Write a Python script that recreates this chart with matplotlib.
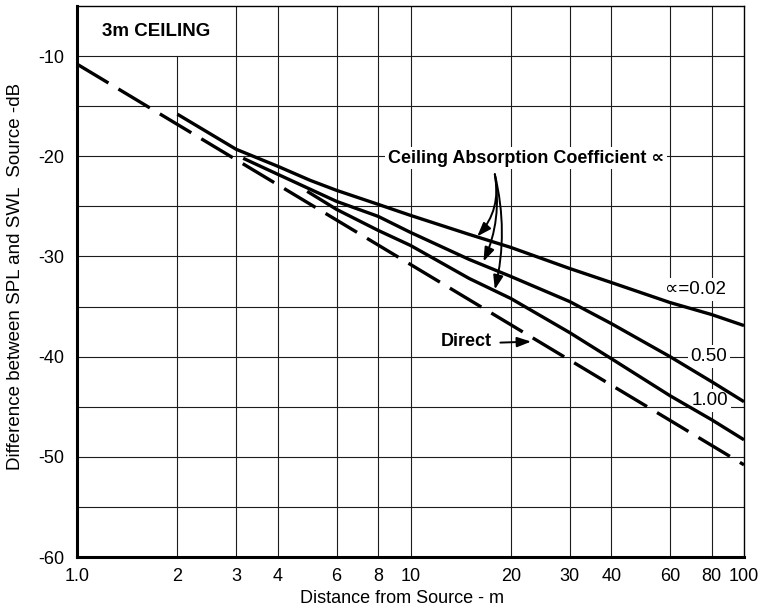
import matplotlib
matplotlib.use("Agg")
import matplotlib.pyplot as plt

plt.rcParams['font.family'] = ['Liberation Sans', 'DejaVu Sans']

# Axis ticks
x_ticks = [1, 2, 3, 4, 6, 8, 10, 20, 30, 40, 60, 80, 100]
x_tick_labels = ['1.0', '2', '3', '4', '6', '8', '10', '20', '30', '40', '60', '80', '100']
y_ticks = [-10, -20, -30, -40, -50, -60]
y_tick_labels = ['-10', '-20', '-30', '-40', '-50', '-60']

# Direct field (dashed)
direct_r = [1, 10, 100]
direct_db = [-10.8, -30.8, -50.8]

# Ceiling absorption coefficient 0.02
a002_r = [2, 3, 4, 5, 6, 8, 10, 15, 20, 30, 40, 60, 80, 100]
a002_db = [-15.8, -19.3, -21.0, -22.4, -23.4, -24.8, -25.9, -27.8, -29.1, -31.2, -32.6, -34.6, -35.8, -36.9]

# Ceiling absorption coefficient 0.50
a050_r = [3.15, 4, 6, 8, 10, 15, 20, 30, 40, 60, 80, 100]
a050_db = [-20.2, -21.8, -24.5, -26.0, -27.6, -30.3, -32.0, -34.5, -36.7, -40.0, -42.5, -44.5]

# Ceiling absorption coefficient 1.00
a100_r = [4.9, 6, 8, 10, 15, 20, 30, 40, 60, 80, 100]
a100_db = [-23.5, -25.3, -27.4, -28.9, -32.2, -34.2, -37.6, -40.2, -43.9, -46.3, -48.3]

W, H = 765, 607
fig = plt.figure(figsize=(W / 100, H / 100), dpi=100)
ax = fig.add_axes([77 / W, 50 / H, 667 / W, 551 / H])

ax.set_xscale('log')
ax.set_xlim(1, 100)
ax.set_ylim(-60, -5)

ax.set_xticks(x_ticks)
ax.set_xticklabels(x_tick_labels)
ax.xaxis.set_minor_locator(matplotlib.ticker.NullLocator())
ax.set_yticks(y_ticks)
ax.set_yticklabels(y_tick_labels)
ax.tick_params(axis='both', length=0, labelsize=13, pad=8)
ax.tick_params(axis='y', pad=9)

# Grid
grid_kw = dict(color='#1c1c1c', lw=0.8, zorder=1)
for y in range(-55, -5, 5):
    ax.axhline(y, **grid_kw)
for x in x_ticks[1:-1]:
    top = 1.0 if x != 2 else (-10 - -60) / 55
    ax.axvline(x, ymax=top, **grid_kw)

for side in ('left', 'bottom'):
    ax.spines[side].set_linewidth(2.2)
for side in ('top', 'right'):
    ax.spines[side].set_linewidth(1.0)

# Curves
line_kw = dict(color='black', lw=2.4, solid_capstyle='butt', zorder=5)
ax.plot(direct_r, direct_db, dashes=(11, 3.5), **line_kw)
ax.plot(a002_r, a002_db, **line_kw)
ax.plot(a050_r, a050_db, **line_kw)
ax.plot(a100_r, a100_db, **line_kw)

white = dict(facecolor='white', edgecolor='none', pad=2)

ax.text(1.732, -7.5, '3m CEILING', ha='center', va='center',
        fontsize=13.5, fontweight='bold', zorder=3)

ax.text(8.55, -20.2, 'Ceiling Absorption Coefficient \u221d', ha='left', va='center',
        fontsize=13, fontweight='bold', bbox=white, zorder=3)

ax.text(71.6, -33.3, '\u221d=0.02', ha='center', va='center',
        fontsize=13.5, bbox=white, zorder=3)
ax.text(78.5, -40.0, '0.50', ha='center', va='center',
        fontsize=13.5, bbox=white, zorder=3)
ax.text(79.0, -44.4, '1.00', ha='center', va='center',
        fontsize=13.5, bbox=white, zorder=3)

ax.text(14.7, -38.5, 'Direct', ha='center', va='center',
        fontsize=13, fontweight='bold', bbox=white, zorder=3)

arrow_kw = dict(arrowstyle='-|>,head_length=0.7,head_width=0.25', color='black',
                lw=1.4, shrinkA=0, shrinkB=0, mutation_scale=12)

origin = (17.9, -21.8)
for tip, rad in [((15.85, -28.0), -0.25), ((16.55, -30.5), -0.15), ((17.9, -33.3), -0.12)]:
    ax.annotate('', xy=tip, xytext=origin,
                arrowprops=dict(connectionstyle=f'arc3,rad={rad}', **arrow_kw), zorder=6)

ax.annotate('', xy=(23.0, -38.5), xytext=(18.6, -38.6),
            arrowprops=dict(connectionstyle='arc3,rad=0', **arrow_kw), zorder=6)

ax.set_xlabel('Distance from Source - m', fontsize=13, labelpad=3)
ax.xaxis.set_label_coords(0.487, -0.06)
ax.set_ylabel('Difference between SPL and SWL  Source -dB', fontsize=13.5)
ax.yaxis.set_label_coords(-0.08, 0.51)

fig.savefig('out.png', dpi=100)
